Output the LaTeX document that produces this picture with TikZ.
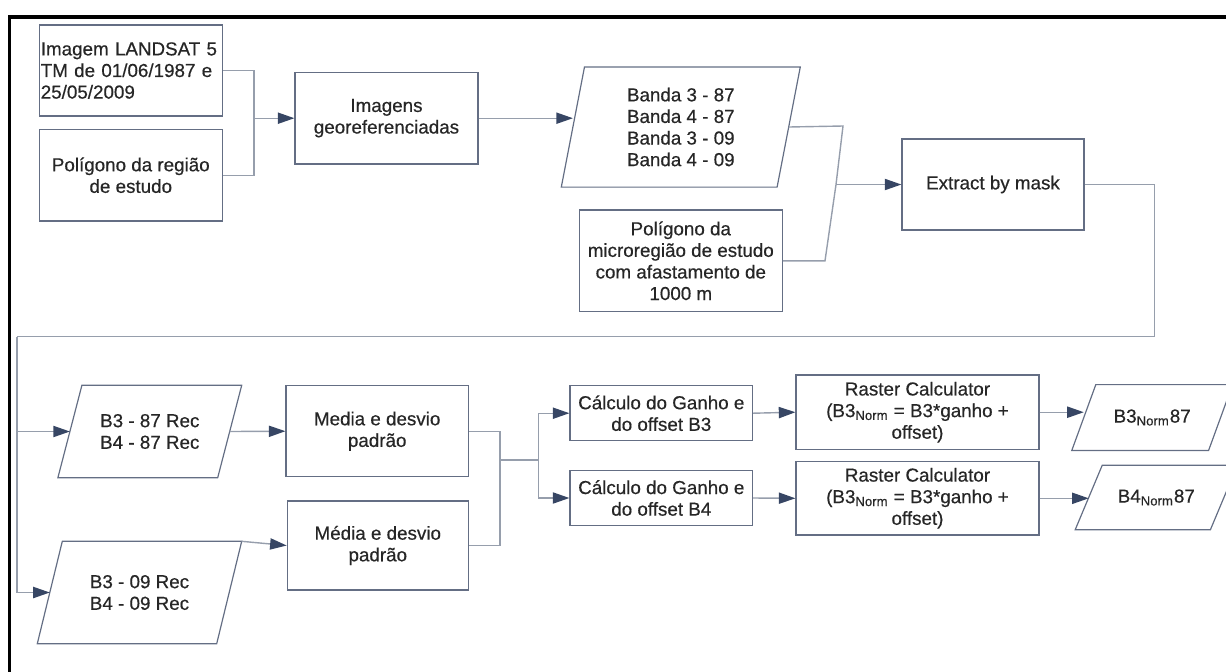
\documentclass[tikz,border=0pt]{standalone}
\usepackage{fontspec}
\setmainfont{Liberation Sans}[UprightFeatures={FakeBold=0.5}]
\usetikzlibrary{calc}
\usetikzlibrary{positioning}
\usetikzlibrary{arrows.meta}
\definecolor{boxc}{RGB}{100,110,132}
\definecolor{linec}{RGB}{150,158,172}
\definecolor{tipc}{RGB}{55,70,100}
\tikzstyle{proc} = [rectangle, draw=boxc, line width=0.6pt, align=center,
    inner sep=1pt, text=black!85]
\tikzstyle{data} = [rectangle, align=center, inner sep=1pt, text=black!85]
\tikzstyle{line} = [draw=linec, line width=0.7pt]
\tikzstyle{arrow} = [line, -{Triangle[length=8.3pt,width=5.6pt,color=tipc]}]
% outline of a data node: name, half of the slant
\newcommand{\slanted}[2]{\draw[draw=boxc, line width=0.6pt]
    ([xshift=#2]#1.north west) -- ([xshift=#2]#1.north east) --
    ([xshift=-#2]#1.south east) -- ([xshift=-#2]#1.south west) -- cycle;}

\begin{document}
\begin{tikzpicture}[x=0.5pt, y=-0.5pt, font=\fontsize{9.4}{10.8}\selectfont]
    \useasboundingbox (0,0) rectangle (1226,671);
    \clip (0,0) rectangle (1226,671);
    % Frame
    \draw[line width=1.7pt] (9.5,680) -- (9.5,17) -- (1240,17);
    % Place nodes
    \node[proc, minimum width=91.5pt, minimum height=45.5pt, text width=90pt,
        inner xsep=0.75pt, align=left] (landsat) at (130.8,70.5)
        {Imagem LANDSAT 5\\TM de 01/06/1987 e\\25/05/2009};
    \node[proc, minimum width=91.5pt, minimum height=45.8pt] (regiao) at (130.8,175.2)
        {Polígono da região\\de estudo};
    \node[proc, minimum width=91.5pt, minimum height=45.8pt] (georef) at (386.5,118.2)
        {Imagens\\georeferenciadas};
    \node[data, minimum width=107.5pt, minimum height=59.7pt] (bandas) at (680.8,127)
        {Banda 3 - 87\\Banda 4 - 87\\Banda 3 - 09\\Banda 4 - 09};
    \node[proc, minimum width=101.5pt, minimum height=50.8pt] (micro) at (680.8,260.8)
        {Polígono da\\microregião de estudo\\com afastamento de\\1000 m};
    \node[proc, minimum width=91pt, minimum height=45.5pt] (extract) at (993,184.5)
        {Extract by mask};
    \node[data, minimum width=79.5pt, minimum height=45.8pt] (rec87) at (149.8,431.5)
        {B3 - 87 Rec\\B4 - 87 Rec};
    \node[data, minimum width=89.3pt, minimum height=50.8pt] (rec09) at (139.5,592.5)
        {B3 - 09 Rec\\B4 - 09 Rec};
    \node[proc, minimum width=91.2pt, minimum height=45.5pt] (media87) at (377.2,431.2)
        {Media e desvio\\padrão};
    \node[proc, minimum width=90.5pt, minimum height=44.5pt] (media09) at (377.8,545.5)
        {Média e desvio\\padrão};
    \node[proc, minimum width=91.3pt, minimum height=27.5pt] (ganho3) at (661.3,413.2)
        {Cálculo do Ganho e\\do offset B3};
    \node[proc, minimum width=91.3pt, minimum height=27.3pt] (ganho4) at (661.3,498)
        {Cálculo do Ganho e\\do offset B4};
    \node[proc, minimum width=121.5pt, minimum height=37.2pt] (raster3) at (917.5,412.2)
        {Raster Calculator\\(B3\textsubscript{Norm} = B3*ganho +\\offset)};
    \node[proc, minimum width=121.5pt, minimum height=36.7pt] (raster4) at (917.5,498.3)
        {Raster Calculator\\(B3\textsubscript{Norm} = B3*ganho +\\offset)};
    \node[data, minimum width=68pt, minimum height=32.5pt] (norm3) at (1152.2,417.5)
        {B3\textsubscript{Norm}87};
    \node[data, minimum width=67.2pt, minimum height=31.8pt] (norm4) at (1156.3,497.5)
        {B4\textsubscript{Norm}87};
    % Slanted outlines
    \slanted{bandas}{5.8pt}
    \slanted{rec87}{6pt}
    \slanted{rec09}{6.25pt}
    \slanted{norm3}{6pt}
    \slanted{norm4}{6.75pt}
    % Joints
    \coordinate (j1) at (254,118.2);
    \coordinate (c1) at (843,126);
    \coordinate (j2) at (836,184.5);
    \coordinate (c2) at (825,260.8);
    \coordinate (c3) at (1154.3,336.5);
    \coordinate (c4) at (17,336.5);
    \coordinate (j3) at (500,460);
    \coordinate (j4) at (538.3,460);
    % Draw edges
    \path [line] (landsat.east) -| (j1);
    \path [line] (regiao.east) -| (j1);
    \path [arrow] (j1) -- (georef.west);
    \path [arrow] (georef.east) -- (georef.east -| bandas.west);
    \path [line] (bandas.east) -- (c1) -- (j2);
    \path [line] (micro.east) -- (c2) -- (j2);
    \path [arrow] (j2) -- (extract.west);
    \path [line] (extract.east) -| (c3) -- (c4);
    \path [arrow] (c4) |- (rec87.west);
    \path [arrow] (c4) |- (rec09.west);
    \path [arrow] (rec87.east) -- (media87.west);
    \path [arrow] ([xshift=6.25pt]rec09.north east) -- (media09.west);
    \path [line] (media87.east) -| (j3);
    \path [line] (media09.east) -| (j3);
    \path [line] (j3) -- (j4);
    \path [arrow] (j4) |- (ganho3.west);
    \path [arrow] (j4) |- (ganho4.west);
    \path [arrow] (ganho3.east) -- (raster3.west);
    \path [arrow] (ganho4.east) -- (raster4.west);
    \path [arrow] (raster3.east) -- (raster3.east -| norm3.west);
    \path [arrow] (raster4.east) -- (raster4.east -| norm4.west);
\end{tikzpicture}
\end{document}
